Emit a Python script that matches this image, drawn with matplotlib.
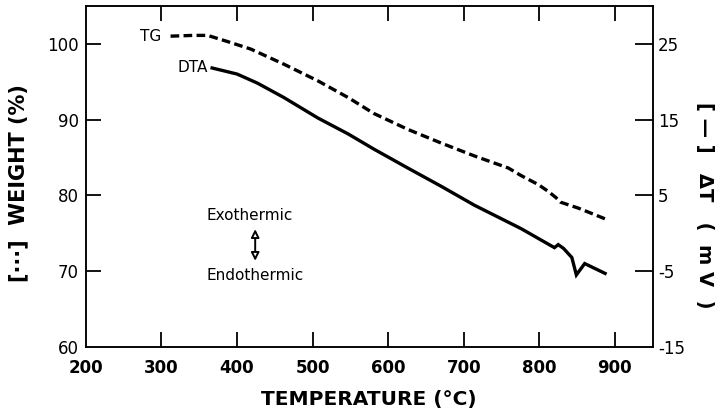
import matplotlib.pyplot as plt

# TG curve (weight %, left axis)
tg_temp = [312, 342, 361, 387, 418, 462, 507, 547, 581, 626, 670, 714, 759,
           776, 799, 812, 822, 828, 852, 892]
tg_weight = [101.0, 101.1, 101.1, 100.3, 99.3, 97.3, 95.1, 92.9, 90.8, 88.7,
             86.9, 85.2, 83.6, 82.6, 81.4, 80.5, 79.7, 79.1, 78.3, 76.7]

# DTA curve (delta T in mV, right axis)
dta_temp = [367, 400, 427, 462, 507, 547, 581, 626, 670, 714, 776, 820, 825,
            832, 843, 849, 860, 887]
dta_mv = [21.8, 21.0, 19.8, 17.9, 15.2, 13.1, 11.1, 8.6, 6.2, 3.7, 0.6, -1.9,
          -1.5, -2.0, -3.2, -5.5, -4.0, -5.3]

x_ticks = [200, 300, 400, 500, 600, 700, 800, 900]
left_ticks = [60, 70, 80, 90, 100]
right_ticks = [-15, -5, 5, 15, 25]

plt.rcParams['font.family'] = 'DejaVu Sans'
plt.rcParams['axes.unicode_minus'] = False

fig = plt.figure(figsize=(7.22, 4.16), dpi=100)
ax = fig.add_axes([0.119, 0.166, 0.785, 0.820])
ax2 = ax.twinx()

ax.plot(tg_temp, tg_weight, color='black', lw=2.4, linestyle=(0, (2.6, 1.3)),
        solid_capstyle='butt')
ax2.plot(dta_temp, dta_mv, color='black', lw=2.4, solid_joinstyle='miter')

ax.set_xlim(200, 950)
ax.set_ylim(60, 105)
ax2.set_ylim(-15, 30)

ax.set_xticks(x_ticks)
ax.set_yticks(left_ticks)
ax2.set_yticks(right_ticks)

for a in (ax, ax2):
    for s in a.spines.values():
        s.set_linewidth(1.1)

ax.tick_params(axis='both', direction='in', length=11, width=1.3,
               labelsize=12, top=True)
ax.tick_params(axis='x', pad=9)
ax.tick_params(axis='y', pad=5)
ax2.tick_params(axis='y', direction='in', length=13, width=1.3,
                labelsize=12, pad=4)
for lab in ax.get_xticklabels():
    lab.set_fontweight('bold')

# hide ticks sitting on the corners
t0 = ax.xaxis.get_major_ticks()[0]
t0.tick1line.set_visible(False)
t0.tick2line.set_visible(False)
ax.yaxis.get_major_ticks()[0].tick1line.set_visible(False)
ax2.yaxis.get_major_ticks()[0].tick2line.set_visible(False)

ax.set_xlabel('TEMPERATURE (°C)', fontsize=14.5, fontweight='bold', labelpad=9)
ax.set_ylabel('[···]  WEIGHT (%)', fontsize=15, fontweight='bold')
ax.yaxis.set_label_coords(-0.101, 0.48)
ax2.set_ylabel('[ — ]   ΔT   (  m V  )', fontsize=14, fontweight='bold',
               rotation=-90)
ax2.yaxis.set_label_coords(1.108, 0.415)

ax.text(300, 101.0, 'TG', fontsize=11, ha='right', va='center')
ax.text(362, 96.9, 'DTA', fontsize=11, ha='right', va='center')

ax.text(360, 77.3, 'Exothermic', fontsize=11, ha='left', va='center')
ax.text(360, 69.4, 'Endothermic', fontsize=11, ha='left', va='center')
ax.annotate('', xy=(424, 75.9), xytext=(424, 71.0),
            arrowprops=dict(arrowstyle='<|-|>', fc='white', ec='black',
                            lw=1.4, mutation_scale=12))

fig.savefig('out.png', dpi=100)
